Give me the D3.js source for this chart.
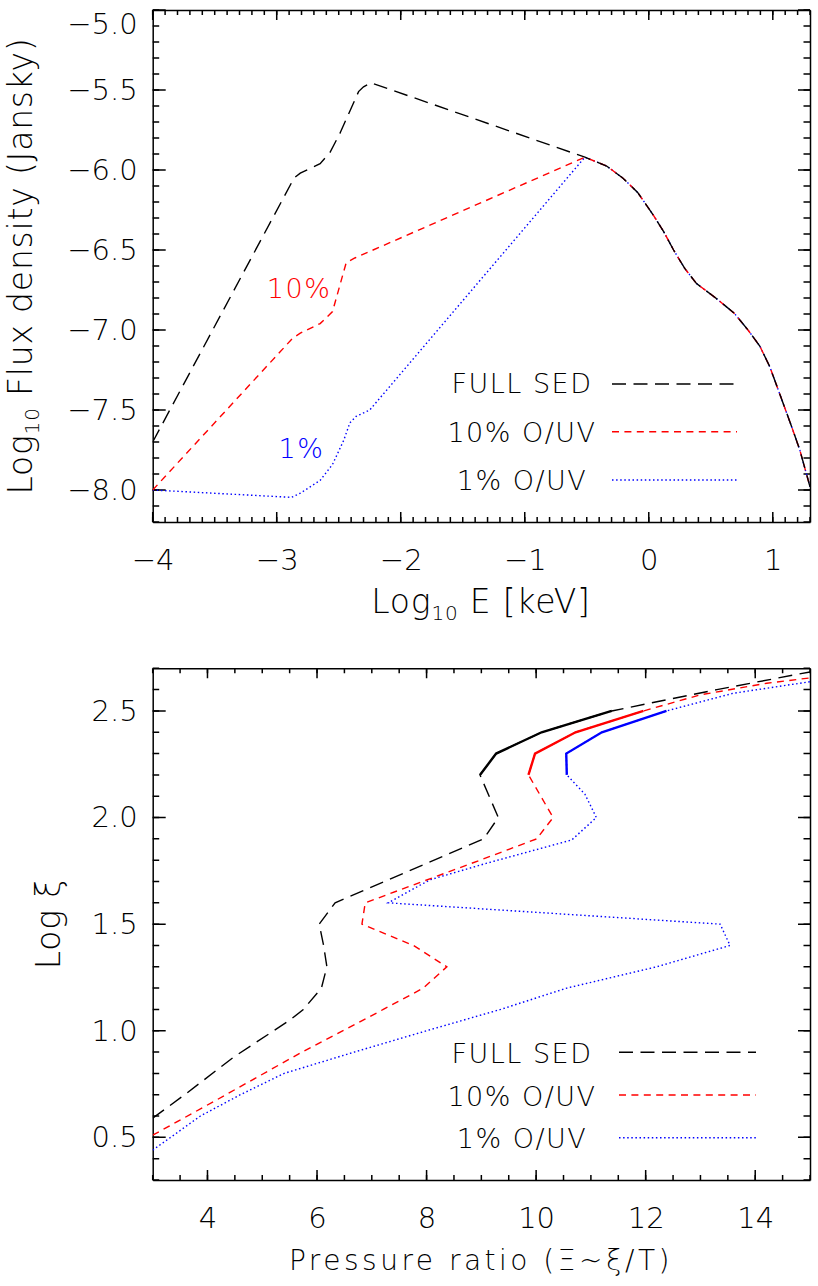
<html>
<head>
<meta charset="utf-8">
<style>
  body { margin: 0; background: #fff; }
  svg text { font-family: "DejaVu Sans", sans-serif; font-weight: 200; fill: #000; }
  .axis path { stroke: #000; stroke-width: 1.5px; }
  .axis text { font-size: 29px; }
  .title { font-size: 33px; letter-spacing: 0.8px; }
  .legend text { font-size: 27px; letter-spacing: 1.5px; }
</style>
<script src="https://d3js.org/d3.v7.min.js"></script>
</head>
<body>
<svg width="818" height="1286"></svg>
<script>
// ---- top panel: log flux density vs log E ----
const fullE = [-4.0, -2.86, -2.81, -2.65, -2.57, -2.49, -2.38, -2.34, -2.30, -2.24];
const fullF = [-7.70, -6.05, -6.02, -5.96, -5.89, -5.77, -5.58, -5.51, -5.48, -5.455];
const tenE = [-4.0, -2.87, -2.81, -2.65, -2.55, -2.44, -2.37];
const tenF = [-8.0, -7.05, -7.02, -6.96, -6.885, -6.58, -6.55];
const oneE = [-4.0, -2.88, -2.81, -2.65, -2.55, -2.46, -2.41, -2.36, -2.25];
const oneF = [-8.0, -8.046, -8.02, -7.94, -7.84, -7.69, -7.58, -7.54, -7.50];
// shared high-energy part of all three SEDs
const tailE = [-0.515, -0.34, -0.21, -0.09, 0.035, 0.12, 0.20, 0.29, 0.385, 0.54, 0.69, 0.80, 0.895, 0.976, 1.056, 1.15, 1.218, 1.30];
const tailF = [-5.92, -5.975, -6.05, -6.14, -6.28, -6.385, -6.50, -6.615, -6.71, -6.80, -6.896, -7.0, -7.10, -7.23, -7.40, -7.60, -7.75, -7.98];

// ---- bottom panel: log xi vs pressure ratio ----
const fullP  = [3.0, 3.62, 4.47, 5.51, 5.75, 6.08, 6.18, 6.12, 6.04, 6.33, 9.04, 9.31, 8.975, 9.27, 10.10, 11.38, 13.3, 15.0];
const fullXi = [0.59, 0.707, 0.875, 1.051, 1.1, 1.2, 1.3, 1.4, 1.5, 1.6, 1.9, 2.0, 2.2, 2.3, 2.4, 2.5, 2.6, 2.683];
const tenP  = [3.0, 4.17, 5.69, 7.21, 7.94, 8.37, 7.76, 6.82, 6.88, 8.975, 10.01, 10.31, 9.86, 9.98, 10.72, 11.96, 12.99, 14.21, 15.0];
const tenXi = [0.51, 0.676, 0.895, 1.1, 1.2, 1.3, 1.4, 1.5, 1.6, 1.8, 1.9, 2.0, 2.2, 2.3, 2.4, 2.5, 2.575, 2.63, 2.655];
const oneP  = [3.0, 3.87, 4.6, 5.4, 6.68, 8.0, 9.35, 10.56, 12.2, 13.54, 13.36, 7.3, 8.06, 9.10, 10.65, 11.1, 10.89, 10.56, 10.55, 11.2, 12.38, 13.6, 15.0];
const oneXi = [0.44, 0.6, 0.7, 0.8, 0.9, 1.0, 1.1, 1.2, 1.3, 1.4, 1.5, 1.6, 1.708, 1.786, 1.895, 2.0, 2.11, 2.2, 2.3, 2.4, 2.5, 2.583, 2.637];

const topXTicks = [-4, -3, -2, -1, 0, 1];
const topYTicks = [-8.0, -7.5, -7.0, -6.5, -6.0, -5.5, -5.0];
const botXTicks = [4, 6, 8, 10, 12, 14];
const botYTicks = [0.5, 1.0, 1.5, 2.0, 2.5];
const legendLabels = ["FULL SED", "10% O/UV", "1% O/UV"];
const colors = ["#000000", "#ff0000", "#0000ff"];
const dashes = ["14,7.5", "7,5.4", "1.5,2.6"];

const svg = d3.select("svg");
const left = 152.7, right = 810;

const xsTop = d3.scaleLinear().domain([-4, 1.3]).range([left, right]);
const ysTop = d3.scaleLinear().domain([-8.2, -5.0]).range([522, 10]);
const xsBot = d3.scaleLinear().domain([3, 15]).range([left, right]);
const ysBot = d3.scaleLinear().domain([0.3, 2.7]).range([1180, 668.3]);

function addAxis(g, axis, tx, ty) {
  return g.append("g").attr("class", "axis").attr("transform", "translate(" + tx + "," + ty + ")").call(axis);
}

// inward tick marks on one side of the box
function tickMarks(g, vals, scale, side, base, len) {
  const d = vals.map(v => {
    const p = scale(v);
    if (side === "bottom") return "M" + p + "," + base + "v" + (-len);
    if (side === "top") return "M" + p + "," + base + "v" + len;
    if (side === "left") return "M" + base + "," + p + "h" + len;
    return "M" + base + "," + p + "h" + (-len);
  }).join("");
  g.append("path").attr("d", d).attr("fill", "none").attr("stroke", "#000").attr("stroke-width", 1.5);
}

function frame(xs, ys, xMajor, xMinor, yMajor, yMinor, xFmt, yFmt) {
  const x0 = xs.range()[0], x1 = xs.range()[1];
  const y0 = ys.range()[0], y1 = ys.range()[1];
  const g = svg.append("g");
  addAxis(g, d3.axisBottom(xs).tickValues(xMajor).tickSize(0).tickPadding(27).tickFormat(xFmt), 0, y0);
  addAxis(g, d3.axisTop(xs).tickValues([]).tickSize(0), 0, y1);
  const yl = addAxis(g, d3.axisLeft(ys).tickValues(yMajor).tickSize(0).tickPadding(15).tickFormat(yFmt), x0, 0);
  addAxis(g, d3.axisRight(ys).tickValues([]).tickSize(0), x1, 0);
  tickMarks(g, xMinor, xs, "bottom", y0, 5);
  tickMarks(g, xMajor, xs, "bottom", y0, 10);
  tickMarks(g, xMinor, xs, "top", y1, 5);
  tickMarks(g, xMajor, xs, "top", y1, 10);
  tickMarks(g, yMinor, ys, "left", x0, 6.5);
  tickMarks(g, yMajor, ys, "left", x0, 13);
  tickMarks(g, yMinor, ys, "right", x1, 6.5);
  tickMarks(g, yMajor, ys, "right", x1, 12);
  return yl;
}

const topYAxis = frame(xsTop, ysTop, topXTicks, d3.range(-40, 14).map(i => i / 10),
  topYTicks, d3.range(-82, -49).map(i => i / 10), d3.format("d"), d3.format(".1f"));
// keep the top label inside the picture, as in the original
topYAxis.selectAll(".tick text").filter(d => d === -5.0).attr("y", 14);

frame(xsBot, ysBot, botXTicks, d3.range(6, 31).map(i => i / 2),
  botYTicks, d3.range(3, 28).map(i => i / 10), d3.format("d"), d3.format(".1f"));

// clip paths
const defs = svg.append("defs");
defs.append("clipPath").attr("id", "clipTop").append("rect")
  .attr("x", left).attr("y", 10).attr("width", right - left).attr("height", 512);
defs.append("clipPath").attr("id", "clipBot").append("rect")
  .attr("x", left).attr("y", 668.3).attr("width", right - left).attr("height", 1180 - 668.3);

// ---- top lines ----
const zip = (a, b) => a.map((v, i) => [v, b[i]]);
const tail = zip(tailE, tailF);
const topSeries = [zip(fullE, fullF).concat(tail), zip(tenE, tenF).concat(tail), zip(oneE, oneF).concat(tail)];
const lineTop = d3.line().x(d => xsTop(d[0])).y(d => ysTop(d[1]));
const gTop = svg.append("g").attr("clip-path", "url(#clipTop)");
[2, 1, 0].forEach(i => {
  gTop.append("path").attr("d", lineTop(topSeries[i]))
    .attr("fill", "none").attr("stroke", colors[i]).attr("stroke-width", 1.4)
    .attr("stroke-dasharray", dashes[i]);
});

svg.append("text").attr("x", xsTop(-2.82)).attr("y", ysTop(-6.8))
  .attr("text-anchor", "middle").style("font-size", "27px").style("letter-spacing", "1.5px").style("fill", colors[1]).text("10%");
svg.append("text").attr("x", xsTop(-2.8)).attr("y", ysTop(-7.8))
  .attr("text-anchor", "middle").style("font-size", "27px").style("letter-spacing", "1.5px").style("fill", colors[2]).text("1%");

// ---- bottom lines ----
const botSeries = [zip(fullP, fullXi), zip(tenP, tenXi), zip(oneP, oneXi)];
const lineBot = d3.line().x(d => xsBot(d[0])).y(d => ysBot(d[1]));
const gBot = svg.append("g").attr("clip-path", "url(#clipBot)");
[2, 1, 0].forEach(i => {
  gBot.append("path").attr("d", lineBot(botSeries[i]))
    .attr("fill", "none").attr("stroke", colors[i]).attr("stroke-width", 1.4)
    .attr("stroke-dasharray", dashes[i]);
  // solid, thicker part between log xi 2.2 and 2.5
  gBot.append("path").attr("d", lineBot(botSeries[i].filter(d => d[1] >= 2.2 && d[1] <= 2.5)))
    .attr("fill", "none").attr("stroke", colors[i]).attr("stroke-width", 2.4);
});

// ---- legends ----
function legend(textY, lineY, x1, x2) {
  const g = svg.append("g").attr("class", "legend");
  legendLabels.forEach((lab, i) => {
    g.append("text").attr("x", 522).attr("y", textY[i]).attr("text-anchor", "middle").text(lab);
    g.append("line").attr("x1", x1).attr("x2", x2).attr("y1", lineY[i]).attr("y2", lineY[i])
      .attr("stroke", colors[i]).attr("stroke-width", 1.4).attr("stroke-dasharray", dashes[i]);
  });
}
legend([393, 442, 490], [384, 431.7, 480], 612, 737);
legend([1063, 1106, 1148], [1052.3, 1095, 1137.7], 619, 756);

// ---- axis titles ----
const t1 = svg.append("text").attr("class", "title").attr("text-anchor", "middle")
  .attr("transform", "translate(32,266) rotate(-90)");
t1.append("tspan").text("Log");
t1.append("tspan").attr("dy", 7).style("font-size", "20px").text("10");
t1.append("tspan").attr("dy", -7).text(" Flux density (Jansky)");

const t2 = svg.append("text").attr("class", "title").attr("text-anchor", "middle")
  .attr("x", 481).attr("y", 613);
t2.append("tspan").text("Log");
t2.append("tspan").attr("dy", 7).style("font-size", "20px").text("10");
t2.append("tspan").attr("dy", -7).text(" E [keV]");

svg.append("text").attr("class", "title").attr("text-anchor", "middle")
  .attr("transform", "translate(60,924) rotate(-90)").text("Log \u03be");

svg.append("text").attr("text-anchor", "middle").attr("x", 481).attr("y", 1270)
  .style("font-size", "28px").style("letter-spacing", "3.5px")
  .text("Pressure ratio (\u039e~\u03be/T)");
</script>
</body>
</html>
